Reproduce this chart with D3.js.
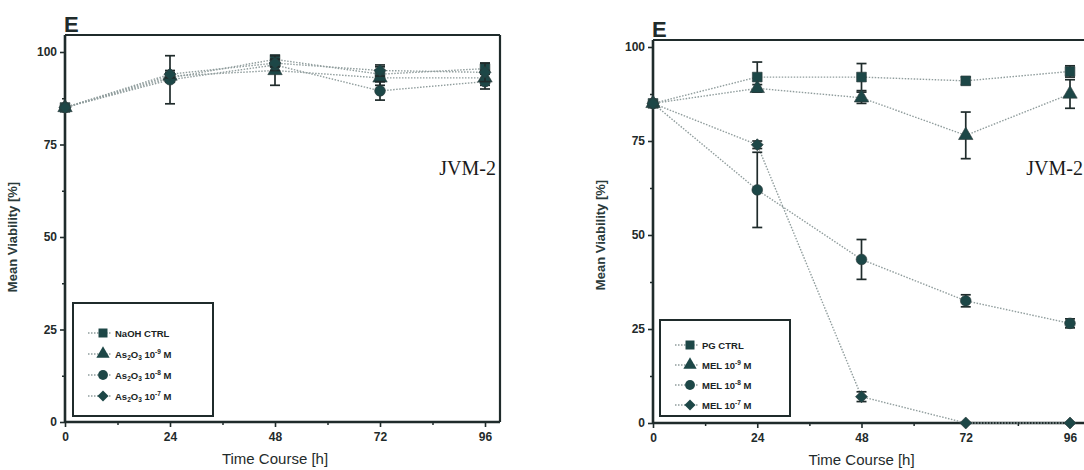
<!DOCTYPE html>
<html>
<head>
<meta charset="utf-8">
<style>
  body { margin: 0; background: #fff; }
  svg { display: block; font-family: 'Liberation Sans', Arial, sans-serif; }
</style>
</head>
<body>
<div id="vis"></div>
<script src="https://d3js.org/d3.v7.min.js"></script>
<script>
// time points and ticks
const hours = [0, 24, 48, 72, 96];
const yTicks = [0, 25, 50, 75, 100];

// panel 1 : As2O3
const naohCtrl    = [85, 93, 98, 94, 95.5];
const naohCtrlErr = [0, 1, 1, 2, 1.5];
const as9         = [85, 93.5, 95, 93, 93];
const as9Err      = [0, 1, 4, 2, 2];
const as8         = [85, 92.5, 96.5, 89.5, 92];
const as8Err      = [0, 6.5, 1.5, 2.5, 2];
const as7         = [85, 94, 97, 95, 94.5];
const as7Err      = [0, 1, 1, 1.5, 2.5];

// panel 2 : MEL
const pgCtrl    = [85, 92, 92, 91, 93.5];
const pgCtrlErr = [0, 4, 3.6, 1, 1.5];
const mel9      = [85, 89, 86.5, 76.5, 87.5];
const mel9Err   = [0, 1, 1.5, 6.2, 3.8];
const mel8      = [85, 62, 43.5, 32.5, 26.5];
const mel8Err   = [0, 10, 5.3, 1.6, 1.2];
const mel7      = [85, 74, 7, 0, 0];
const mel7Err   = [0, 1, 1.3, 0, 0];

// legend labels: [text, kind]
const leftLabels = [
  [["NaOH CTRL", ""]],
  [["As", ""], ["2", "sub"], ["O", ""], ["3", "sub"], [" 10", ""], ["-9", "sup"], [" M", ""]],
  [["As", ""], ["2", "sub"], ["O", ""], ["3", "sub"], [" 10", ""], ["-8", "sup"], [" M", ""]],
  [["As", ""], ["2", "sub"], ["O", ""], ["3", "sub"], [" 10", ""], ["-7", "sup"], [" M", ""]]
];
const rightLabels = [
  [["PG CTRL", ""]],
  [["MEL 10", ""], ["-9", "sup"], [" M", ""]],
  [["MEL 10", ""], ["-8", "sup"], [" M", ""]],
  [["MEL 10", ""], ["-7", "sup"], [" M", ""]]
];

// square, triangle, circle, diamond (= rotated square)
const shapes = [d3.symbolSquare, d3.symbolTriangle, d3.symbolCircle, d3.symbolSquare];
const sizes = [95, 90, 90, 72];
const rot = [0, 0, 0, 45];

const markColor = '#1d4747';
const axisColor = '#1f2b2b';
const lineColor = '#909d9d';

const svg = d3.select('#vis').append('svg')
  .attr('width', 1084)
  .attr('height', 470);

function panel(cfg) {
  const x = d3.scaleLinear().domain([0, 96]).range([cfg.x0, cfg.x96]);
  const y = d3.scaleLinear().domain([0, 100]).range([cfg.y0, cfg.y100]);
  const g = svg.append('g');

  // frame top + right
  g.append('line')
    .attr('x1', cfg.x0).attr('x2', cfg.right)
    .attr('y1', cfg.top).attr('y2', cfg.top)
    .attr('stroke', axisColor).attr('stroke-width', 2.2);
  g.append('line')
    .attr('x1', cfg.right).attr('x2', cfg.right)
    .attr('y1', cfg.top).attr('y2', cfg.y0)
    .attr('stroke', axisColor).attr('stroke-width', 2.2);

  // minor ticks
  g.append('g').attr('transform', `translate(${cfg.x0},0)`)
    .call(d3.axisLeft(y).tickValues([12.5, 37.5, 62.5, 87.5]).tickSize(3).tickFormat(''))
    .call(a => a.select('.domain').remove())
    .call(a => a.selectAll('line').attr('stroke', axisColor).attr('stroke-width', 1.5));
  g.append('g').attr('transform', `translate(0,${cfg.y0})`)
    .call(d3.axisBottom(x).tickValues([12, 36, 60, 84]).tickSize(3).tickFormat(''))
    .call(a => a.select('.domain').remove())
    .call(a => a.selectAll('line').attr('stroke', axisColor).attr('stroke-width', 1.5));

  // y axis
  g.append('g').attr('transform', `translate(${cfg.x0},0)`)
    .call(d3.axisLeft(y).tickValues(yTicks).tickSize(5).tickSizeOuter(0).tickPadding(3))
    .call(a => a.select('.domain').attr('d', `M0,${cfg.y0 + 1}V${cfg.top}`).attr('stroke', axisColor).attr('stroke-width', 2.6))
    .call(a => a.selectAll('.tick line').attr('stroke', axisColor).attr('stroke-width', 1.6))
    .call(a => a.selectAll('text').attr('fill', axisColor).attr('font-size', 12).attr('font-weight', 'bold'));

  // x axis
  g.append('g').attr('transform', `translate(0,${cfg.y0})`)
    .call(d3.axisBottom(x).tickValues(hours).tickSize(5).tickSizeOuter(0).tickPadding(5))
    .call(a => a.select('.domain').attr('d', `M${cfg.x0},0H${cfg.right}`).attr('stroke', axisColor).attr('stroke-width', 2.6))
    .call(a => a.selectAll('.tick line').attr('stroke', axisColor).attr('stroke-width', 1.6))
    .call(a => a.selectAll('text').attr('fill', axisColor).attr('font-size', 12).attr('font-weight', 'bold'));

  // titles
  g.append('text')
    .attr('transform', `translate(${cfg.x0 - 48},${(cfg.y0 + cfg.y100) / 2}) rotate(-90)`)
    .attr('text-anchor', 'middle')
    .attr('font-size', 13)
    .attr('font-weight', 'bold')
    .attr('fill', '#2a3a3a')
    .text('Mean Viability [%]');
  g.append('text')
    .attr('x', x(48)).attr('y', cfg.y0 + 42)
    .attr('text-anchor', 'middle')
    .attr('font-size', 15)
    .attr('fill', axisColor)
    .text('Time Course [h]');
  g.append('text')
    .attr('x', cfg.x0 - 1).attr('y', cfg.top - 3)
    .attr('font-size', 22)
    .attr('font-weight', 'bold')
    .attr('fill', axisColor)
    .text('E');
  g.append('text')
    .attr('x', cfg.jvmX).attr('y', 175)
    .attr('text-anchor', 'end')
    .attr('font-family', "'Liberation Serif', 'Times New Roman', serif")
    .attr('font-size', 20)
    .attr('fill', '#1a1a1a')
    .text('JVM-2');

  const line = d3.line().x((d, i) => x(hours[i])).y(d => y(d));

  // dotted connecting lines
  cfg.series.forEach(s => {
    g.append('path')
      .attr('d', line(s.values))
      .attr('fill', 'none')
      .attr('stroke', lineColor)
      .attr('stroke-width', 1.4)
      .attr('stroke-dasharray', '1.5,1.5');
  });

  // error bars + markers
  cfg.series.forEach((s, k) => {
    const eb = g.append('g');
    s.values.forEach((v, i) => {
      const e = s.err[i];
      if (!e) return;
      eb.append('line')
        .attr('x1', x(hours[i])).attr('x2', x(hours[i]))
        .attr('y1', y(v - e)).attr('y2', y(v + e))
        .attr('stroke', axisColor).attr('stroke-width', 1.7);
      [v - e, v + e].forEach(w => {
        eb.append('line')
          .attr('x1', x(hours[i]) - 5).attr('x2', x(hours[i]) + 5)
          .attr('y1', y(w)).attr('y2', y(w))
          .attr('stroke', axisColor).attr('stroke-width', 1.7);
      });
    });
    g.append('g').selectAll('path')
      .data(s.values)
      .join('path')
      .attr('transform', (d, i) => `translate(${x(hours[i])},${y(d)}) rotate(${rot[k]})`)
      .attr('d', d3.symbol().type(shapes[k]).size(sizes[k]))
      .attr('fill', markColor)
      .attr('stroke', '#2c3a3a')
      .attr('stroke-width', 0.6);
  });

  // legend
  const lg = g.append('g');
  lg.append('rect')
    .attr('x', cfg.leg.x).attr('y', cfg.leg.y)
    .attr('width', cfg.leg.w).attr('height', cfg.leg.h)
    .attr('fill', '#fff')
    .attr('stroke', axisColor).attr('stroke-width', 2);
  cfg.labels.forEach((lab, k) => {
    const cy = cfg.leg.first + k * cfg.leg.step;
    const mx = cfg.leg.x + 30;
    lg.append('line')
      .attr('x1', mx - 15).attr('x2', mx + 9)
      .attr('y1', cy).attr('y2', cy)
      .attr('stroke', lineColor).attr('stroke-width', 1.3)
      .attr('stroke-dasharray', '1.5,1.5');
    lg.append('path')
      .attr('transform', `translate(${mx},${cy}) rotate(${rot[k]})`)
      .attr('d', d3.symbol().type(shapes[k]).size(sizes[k] * 0.85))
      .attr('fill', markColor);
    const t = lg.append('text')
      .attr('x', mx + 12).attr('y', cy + 3.5)
      .attr('font-size', 9.5)
      .attr('font-weight', 'bold')
      .attr('fill', '#1a2424');
    let off = 0;
    lab.forEach(([s, kind]) => {
      const dy = kind === 'sub' ? 2.5 : kind === 'sup' ? -4 : 0;
      const ts = t.append('tspan').text(s).attr('dy', dy - off);
      if (kind) ts.attr('font-size', 6.5);
      off = dy;
    });
  });
}

panel({
  x0: 65, x96: 485, right: 500, top: 35, y0: 422, y100: 52, jvmX: 496,
  series: [
    { values: naohCtrl, err: naohCtrlErr },
    { values: as9, err: as9Err },
    { values: as8, err: as8Err },
    { values: as7, err: as7Err }
  ],
  labels: leftLabels,
  leg: { x: 73, y: 303, w: 140, h: 113, first: 333, step: 21 }
});

panel({
  x0: 653, x96: 1070, right: 1090, top: 40, y0: 423, y100: 47, jvmX: 1083,
  series: [
    { values: pgCtrl, err: pgCtrlErr },
    { values: mel9, err: mel9Err },
    { values: mel8, err: mel8Err },
    { values: mel7, err: mel7Err }
  ],
  labels: rightLabels,
  leg: { x: 660, y: 320, w: 130, h: 96, first: 345, step: 20 }
});
</script>
</body>
</html>
